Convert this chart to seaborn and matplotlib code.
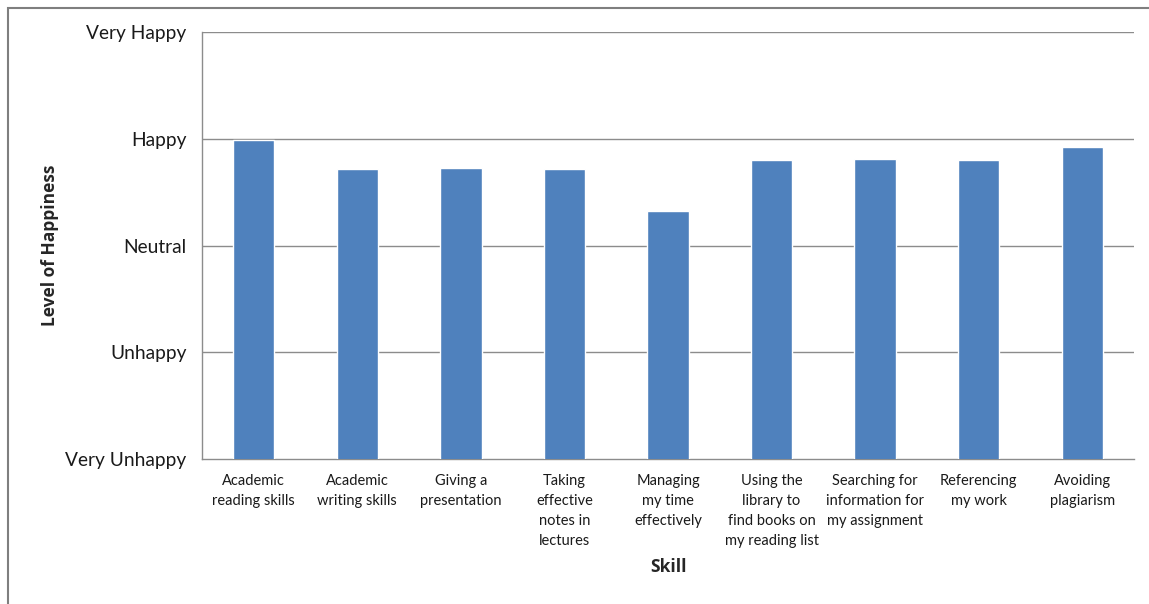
import matplotlib
matplotlib.use("Agg")
import matplotlib.pyplot as plt
import seaborn as sns
import pandas as pd
from matplotlib.patches import Rectangle

skills = [
    "Academic\nreading skills",
    "Academic\nwriting skills",
    "Giving a\npresentation",
    "Taking\neffective\nnotes in\nlectures",
    "Managing\nmy time\neffectively",
    "Using the\nlibrary to\nfind books on\nmy reading list",
    "Searching for\ninformation for\nmy assignment",
    "Referencing\nmy work",
    "Avoiding\nplagiarism",
]
happiness = [3.99, 3.72, 3.73, 3.72, 3.32, 3.80, 3.81, 3.80, 3.92]
level_values = [1, 2, 3, 4, 5]
level_labels = ["Very Unhappy", "Unhappy", "Neutral", "Happy", "Very Happy"]

sns.set_style("white")
plt.rcParams["font.family"] = ["Lato", "DejaVu Sans"]

df = pd.DataFrame({"Skill": skills, "Happiness": happiness})

fig = plt.figure(figsize=(11.49, 6.04), dpi=100)
ax = fig.add_axes([0.1758, 0.240, 0.8112, 0.707])

grid_col = "#8c8c8c"
sns.barplot(data=df, x="Skill", y="Happiness", color="#4F81BD", width=0.40,
            saturation=1, ax=ax, zorder=3)

ax.set_ylim(1, 5)
ax.set_xlim(-0.5, len(skills) - 0.5)
ax.set_yticks(level_values)
ax.set_yticklabels(level_labels, fontsize=13.8, color="#1a1a1a")
for v in level_values[1:]:
    ax.axhline(v, color=grid_col, lw=1.0, zorder=1)

# category boundary ticks on the x axis
ax.set_xticks(range(len(skills)))
ax.set_xticklabels(skills, fontsize=10.5, color="#1a1a1a", linespacing=1.55,
                   va="top")
ax.tick_params(axis="x", which="major", length=0, pad=11)
ax.set_xticks([i - 0.5 for i in range(len(skills) + 1)], minor=True)
ax.tick_params(axis="x", which="minor", length=6, color=grid_col, width=1,
               direction="out")
ax.tick_params(axis="y", length=6, color=grid_col, width=1, direction="out",
               pad=5)

for side in ["top", "right"]:
    ax.spines[side].set_visible(False)
for side in ["left", "bottom"]:
    ax.spines[side].set_color(grid_col)
    ax.spines[side].set_linewidth(1.0)

label_font = dict(family=["Open Sans", "DejaVu Sans"], fontweight="bold",
                  fontsize=12.5)
ax.set_xlabel("Skill", labelpad=7, **label_font)
ax.set_ylabel("Level of Happiness", labelpad=5, **label_font)

# outer chart frame
fig.patches.append(Rectangle((8 / 1149, -0.05), 1.2, 1 - 8 / 604 + 0.05,
                             transform=fig.transFigure, fill=False,
                             edgecolor="#7f7f7f", lw=1.5))

fig.savefig("out.png", dpi=100)
